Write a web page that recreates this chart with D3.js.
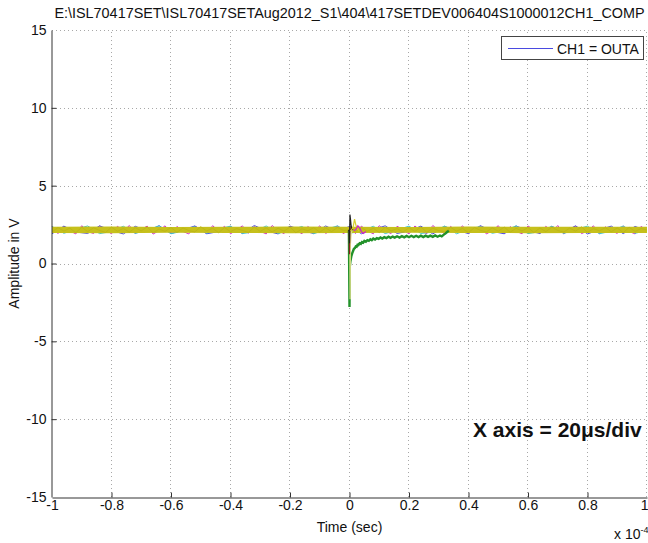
<!DOCTYPE html>
<html>
<head>
<meta charset="utf-8">
<script src="https://cdn.jsdelivr.net/npm/d3@7/dist/d3.min.js"></script>
<style>
  html, body { margin: 0; padding: 0; background: #fff; }
  svg { display: block; font-family: "Liberation Sans", Arial, sans-serif; }
</style>
</head>
<body>
<svg id="chart" width="648" height="543"></svg>
<script>
// ---- data (time in units of 1e-4 s, amplitude in V) ----
const titleText = "E:\\ISL70417SET\\ISL70417SETAug2012_S1\\404\\417SETDEV006404S1000012CH1_COMP";
const xTickValues = [-1, -0.8, -0.6, -0.4, -0.2, 0, 0.2, 0.4, 0.6, 0.8, 1];
const xTickLabels = ["-1", "-0.8", "-0.6", "-0.4", "-0.2", "0", "0.2", "0.4", "0.6", "0.8", "1"];
const yTickValues = [-15, -10, -5, 0, 5, 10, 15];
const yTickLabels = ["-15", "-10", "-5", "0", "5", "10", "15"];
const legendLabel = "CH1 = OUTA";
const annotation = "X axis = 20\u03bcs/div";

// baseline shots, evenly sampled across the record
const yellowBase = [2.02,2.31,2.08,2.27,1.98,2.33,2.05,2.29,2.12,1.99,2.34,2.07,2.25,2.01,2.30,2.10,2.35,1.97,2.22,2.06,
  2.32,2.00,2.28,2.11,2.03,2.36,2.09,2.26,1.98,2.31,2.04,2.24,2.13,1.99,2.33,2.06,2.29,2.02,2.27,2.08,
  2.34,1.97,2.23,2.10,2.30,2.01,2.28,2.05,2.32,2.12,2.14,2.03,2.31,2.07,2.26,1.99,2.33,2.10,2.24,2.02,
  2.30,2.06,2.35,2.00,2.27,2.11,2.04,2.32,2.08,2.25,1.98,2.31,2.13,2.03,2.29,2.07,2.34,2.01,2.26,2.09,
  2.31,1.99,2.28,2.05,2.33,2.12,2.02,2.27,2.08,2.35,2.00,2.24,2.10,2.30,2.04,2.29,1.98,2.32,2.06,2.25,2.15];
const magentaBase = [2.40,1.92,2.38,2.10,1.90,2.43,2.05,1.93,2.41,2.15,1.91,2.39,2.08,2.44,1.92,2.20,2.40,1.89,2.12,2.42,
  1.93,2.38,2.06,1.90,2.41,2.18,1.92,2.43,2.09,2.39,1.91,2.14,2.42,1.94,2.37,2.07,1.90,2.44,2.11,1.92,
  2.40,2.16,1.91,2.38,2.04,2.42,1.93,2.19,2.41,1.90,2.35,1.92,2.40,2.10,1.91,2.43,2.06,1.93,2.39,2.17,
  1.90,2.41,2.08,1.92,2.44,2.13,1.91,2.38,2.05,2.42,1.93,2.20,2.40,1.90,2.11,2.43,1.92,2.37,2.07,1.91,
  2.41,2.15,1.93,2.39,2.03,2.44,1.90,2.18,2.40,1.92,2.09,2.42,1.91,2.36,2.12,1.93,2.41,2.06,1.90,2.38,2.14];
const blueBase = [1.91,2.40,2.02,1.93,2.42,2.12,1.90,2.39,2.07,2.43,1.92,2.16,2.41,1.91,2.05,2.38,1.93,2.44,2.10,1.90,
  2.40,2.13,1.92,2.41,2.04,2.39,1.91,2.18,2.42,1.93,2.08,2.40,1.90,2.37,2.14,1.92,2.43,2.06,1.91,2.41,
  2.11,1.93,2.39,2.03,2.42,1.90,2.17,2.40,1.92,2.38,2.09];
const cyanBase = [2.38,1.94,2.20,2.41,1.92,2.06,2.39,1.93,2.15,2.42,1.91,2.09,2.37,1.94,2.22,2.40,1.92,2.04,2.41,1.93,
  2.13,2.38,1.91,2.19,2.42,1.94,2.07,2.39,1.92,2.16,2.40,1.93,2.02,2.41,1.91,2.21,2.37,1.94,2.10,2.42,
  1.92,2.05,2.39,1.93,2.18,2.40,1.91,2.08,2.41,1.94,2.12];

// envelope of the overlaid baseline shots
const bandTimes = [-1, -0.8, -0.6, -0.4, -0.2, 0, 0.2, 0.4, 0.6, 0.8, 1];
const bandLow  = [1.96, 1.95, 1.97, 1.96, 1.95, 1.96, 1.97, 1.96, 1.95, 1.96, 1.96];
const bandHigh = [2.36, 2.37, 2.35, 2.36, 2.37, 2.36, 2.35, 2.37, 2.36, 2.36, 2.36];

// event shots around t = 0, as [time, volts]
const greenShot = [[-0.002,2.1],[0,-2.8],[0.001,-0.2],[0.003,0.15],[0.006,0.45],[0.009,0.65],[0.012,0.8],
  [0.015,0.95],[0.018,0.98],[0.021,1.1],[0.024,1.08],[0.027,1.2],[0.03,1.18],[0.034,1.3],[0.038,1.26],[0.042,1.38],
  [0.046,1.34],[0.05,1.45],[0.055,1.4],[0.06,1.5],[0.065,1.46],[0.07,1.56],[0.075,1.5],[0.08,1.6],[0.086,1.54],
  [0.092,1.63],[0.098,1.58],[0.104,1.67],[0.11,1.6],[0.117,1.69],[0.124,1.63],[0.131,1.72],[0.138,1.65],[0.145,1.73],
  [0.152,1.66],[0.16,1.75],[0.168,1.67],[0.176,1.76],[0.184,1.68],[0.192,1.77],[0.2,1.69],[0.208,1.78],[0.216,1.7],
  [0.224,1.78],[0.232,1.7],[0.24,1.79],[0.248,1.7],[0.256,1.79],[0.264,1.71],[0.272,1.79],[0.28,1.71],[0.288,1.8],
  [0.296,1.72],[0.304,1.8],[0.31,1.74],[0.316,1.84],[0.322,1.92],[0.328,2.02],[0.334,2.1]];
const paleShot = [[-0.002,2.15],[0.001,2.1],[0.002,-2.3],[0.003,1.2],[0.006,2.0],[0.01,2.15]];
const darkRedShot = [[-0.003,2.15],[-0.001,2.1],[0,0.6],[0.001,2.4],[0.003,2.15]];
const blackShot = [[-0.004,2.15],[-0.001,2.1],[0,1.3],[0.0015,3.15],[0.003,2.9],[0.005,2.5],[0.008,2.2],[0.012,2.15]];
const yellowShot = [[0.004,2.1],[0.008,2.2],[0.012,2.3],[0.017,2.85],[0.021,2.5],[0.026,2.2],[0.032,2.1]];
const magentaShot = [[0.015,2.1],[0.022,2.2],[0.028,2.42],[0.034,2.3],[0.04,2.05],[0.046,1.93],[0.055,2.05]];

// ---- layout ----
const svg = d3.select("#chart");
const margin = { left: 52, right: 1, top: 30, bottom: 46 };
const W = 648, H = 543;
const x = d3.scaleLinear().domain([-1, 1]).range([margin.left, W - margin.right]);
const y = d3.scaleLinear().domain([-15, 15]).range([H - margin.bottom, margin.top]);

// title
svg.append("text")
  .attr("x", (x(-1) + x(1)) / 2).attr("y", 18)
  .attr("text-anchor", "middle").attr("font-size", 14.4).attr("fill", "#111")
  .text(titleText);

// dotted grid
const grid = svg.append("g").attr("stroke", "#a8a8a8").attr("stroke-dasharray", "1,3").attr("stroke-width", 1);
grid.selectAll("line.v").data(xTickValues.slice(1)).join("line")
  .attr("x1", d => Math.round(x(d)) - 0.5).attr("x2", d => Math.round(x(d)) - 0.5)
  .attr("y1", y(-15)).attr("y2", y(15));
grid.selectAll("line.h").data(yTickValues.slice(1)).join("line")
  .attr("y1", d => Math.round(y(d)) + 0.5).attr("y2", d => Math.round(y(d)) + 0.5)
  .attr("x1", x(-1)).attr("x2", x(1));

// traces
const line = d3.line().x(d => x(d[0])).y(d => y(d[1]));
const sampled = arr => arr.map((v, i) => [-1 + 2 * i / (arr.length - 1), v]);
const plot = svg.append("g").attr("fill", "none");

plot.append("path").datum(sampled(magentaBase)).attr("d", line).attr("stroke", "#cc33cc").attr("stroke-width", 1);
plot.append("path").datum(sampled(blueBase)).attr("d", line).attr("stroke", "#4a4ae0").attr("stroke-width", 1);
plot.append("path").datum(sampled(cyanBase)).attr("d", line).attr("stroke", "#46c3cf").attr("stroke-width", 1);

const area = d3.area().x(d => x(d[0])).y0(d => y(d[1])).y1(d => y(d[2]));
plot.append("path").datum(bandTimes.map((t, i) => [t, bandLow[i], bandHigh[i]]))
  .attr("d", area).attr("fill", "#c6c01c");
plot.append("path").datum(sampled(yellowBase)).attr("d", line).attr("stroke", "#bdb716").attr("stroke-width", 1);

plot.append("path").datum(greenShot).attr("d", line).attr("stroke", "#22922a").attr("stroke-width", 2.4);
plot.append("path").datum(paleShot).attr("d", line).attr("stroke", "#e2e08a").attr("stroke-width", 1.2);
plot.append("path").datum(darkRedShot).attr("d", line).attr("stroke", "#8a2020").attr("stroke-width", 1.2);
plot.append("path").datum(blackShot).attr("d", line).attr("stroke", "#222").attr("stroke-width", 1.2);
plot.append("path").datum(yellowShot).attr("d", line).attr("stroke", "#d6cf2a").attr("stroke-width", 1.2);
plot.append("path").datum(magentaShot).attr("d", line).attr("stroke", "#cc22cc").attr("stroke-width", 1.2);

// axes (ticks point inward)
const xAxis = d3.axisBottom(x).tickValues(xTickValues)
  .tickFormat((d, i) => xTickLabels[i]).tickSizeInner(-5).tickSizeOuter(0).tickPadding(3);
const yAxis = d3.axisLeft(y).tickValues(yTickValues)
  .tickFormat((d, i) => yTickLabels[i]).tickSizeInner(-5).tickSizeOuter(0).tickPadding(5);

const gx = svg.append("g").attr("transform", `translate(0,${y(-15) + 0.5})`).call(xAxis);
const gy = svg.append("g").attr("transform", `translate(${x(-1) - 0.5},0)`).call(yAxis);
[gx, gy].forEach(g => {
  g.selectAll("path, line").attr("stroke", "#333");
  g.selectAll("text").attr("font-size", 14).attr("fill", "#111")
    .attr("font-family", "'Liberation Sans', Arial, sans-serif");
});
// no ticks where the axis meets the dotted edge lines
gx.selectAll(".tick").filter(d => d === 1 || d === -1).select("line").remove();
gy.selectAll(".tick").filter(d => d === 15 || d === -15).select("line").remove();
// the last x label sits at the window edge; keep it fully visible
gx.selectAll(".tick").filter(d => d === 1).select("text").attr("text-anchor", "end").attr("dx", 1);

// axis labels
svg.append("text").attr("x", (x(-1) + x(1)) / 2).attr("y", 532)
  .attr("text-anchor", "middle").attr("font-size", 14).attr("fill", "#111").text("Time (sec)");
svg.append("text").attr("transform", `translate(19,${y(0)}) rotate(-90)`)
  .attr("text-anchor", "middle").attr("font-size", 14).attr("fill", "#111").text("Amplitude in V");

// exponent of the time axis
const expo = svg.append("text").attr("x", 614).attr("y", 539).attr("font-size", 14).attr("fill", "#111");
expo.append("tspan").text("x 10");
expo.append("tspan").attr("dy", -6).attr("font-size", 9).text("-4");

// legend
const lg = svg.append("g");
lg.append("rect").attr("x", 501.5).attr("y", 36.5).attr("width", 142).attr("height", 23)
  .attr("fill", "#fff").attr("stroke", "#444");
lg.append("line").attr("x1", 508).attr("x2", 553).attr("y1", 48.5).attr("y2", 48.5)
  .attr("stroke", "#4a4ae0").attr("stroke-width", 1);
lg.append("text").attr("x", 557).attr("y", 53.5).attr("font-size", 14).attr("fill", "#111").text(legendLabel);

// annotation
svg.append("text").attr("x", 473).attr("y", 437).attr("font-size", 21).attr("font-weight", "bold")
  .attr("fill", "#111").text(annotation);
</script>
</body>
</html>
